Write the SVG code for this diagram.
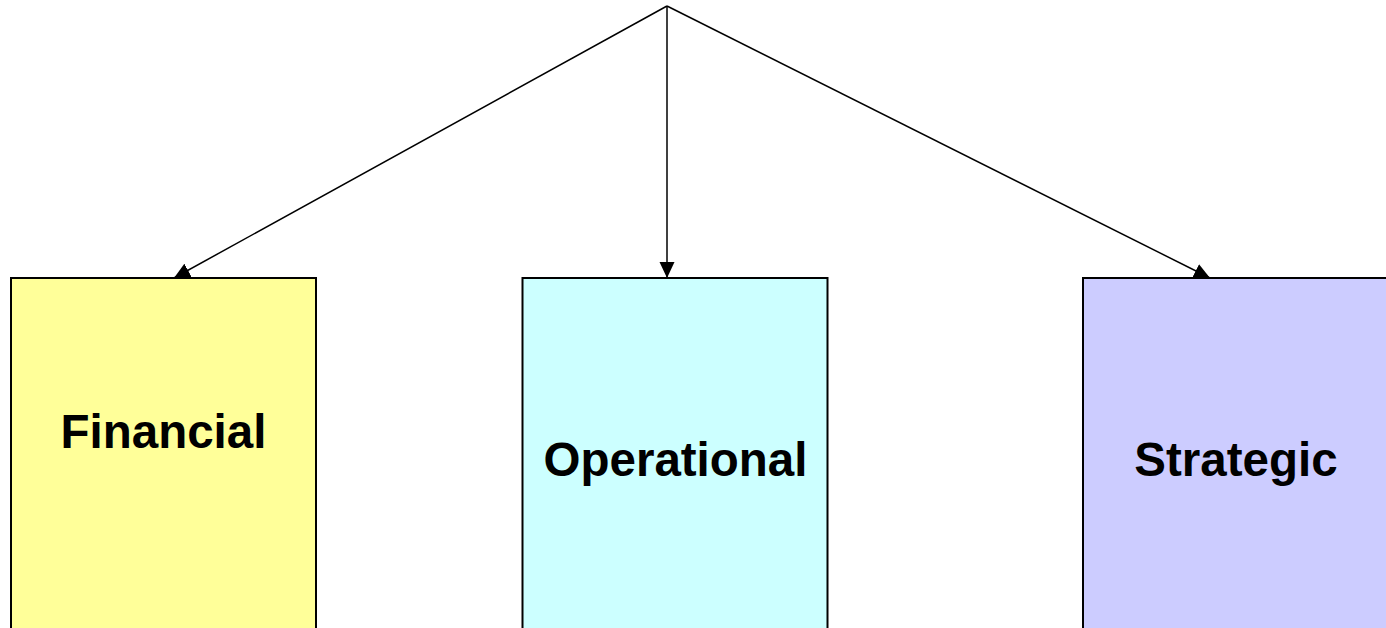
<svg xmlns="http://www.w3.org/2000/svg" width="1386" height="628" viewBox="0 0 1386 628">
  <style>
    .edge { fill: none; stroke: #000; stroke-width: 1.5; marker-end: url(#arrow); }
    .box { stroke: #000; stroke-width: 2; }
    .label { font-family: "Liberation Sans", Arial, sans-serif; font-weight: bold; font-size: 47.5px; fill: #000; text-anchor: middle; }
  </style>
  <defs>
    <marker id="arrow" markerUnits="userSpaceOnUse" markerWidth="16" markerHeight="16" viewBox="0 0 16 15" refX="16" refY="7.5" orient="auto">
      <path d="M0,0 L16,7.5 L0,15 Z" fill="#000"/>
    </marker>
  </defs>
  <rect width="1386" height="628" fill="#fff"/>

  <g id="connectors">
    <line class="edge" x1="667" y1="6" x2="174" y2="278"/>
    <line class="edge" x1="667" y1="6" x2="667" y2="278"/>
    <line class="edge" x1="667" y1="6" x2="1210" y2="278"/>
  </g>

  <g id="financial">
    <rect class="box" x="11" y="278" width="305" height="360" fill="#FFFF99"/>
    <text class="label" x="163.5" y="448">Financial</text>
  </g>

  <g id="operational">
    <rect class="box" x="522.5" y="278" width="305" height="360" fill="#CCFFFF"/>
    <text class="label" x="675.5" y="476">Operational</text>
  </g>

  <g id="strategic">
    <rect class="box" x="1083" y="278" width="305" height="360" fill="#CCCCFF"/>
    <text class="label" x="1236" y="476">Strategic</text>
  </g>
</svg>
